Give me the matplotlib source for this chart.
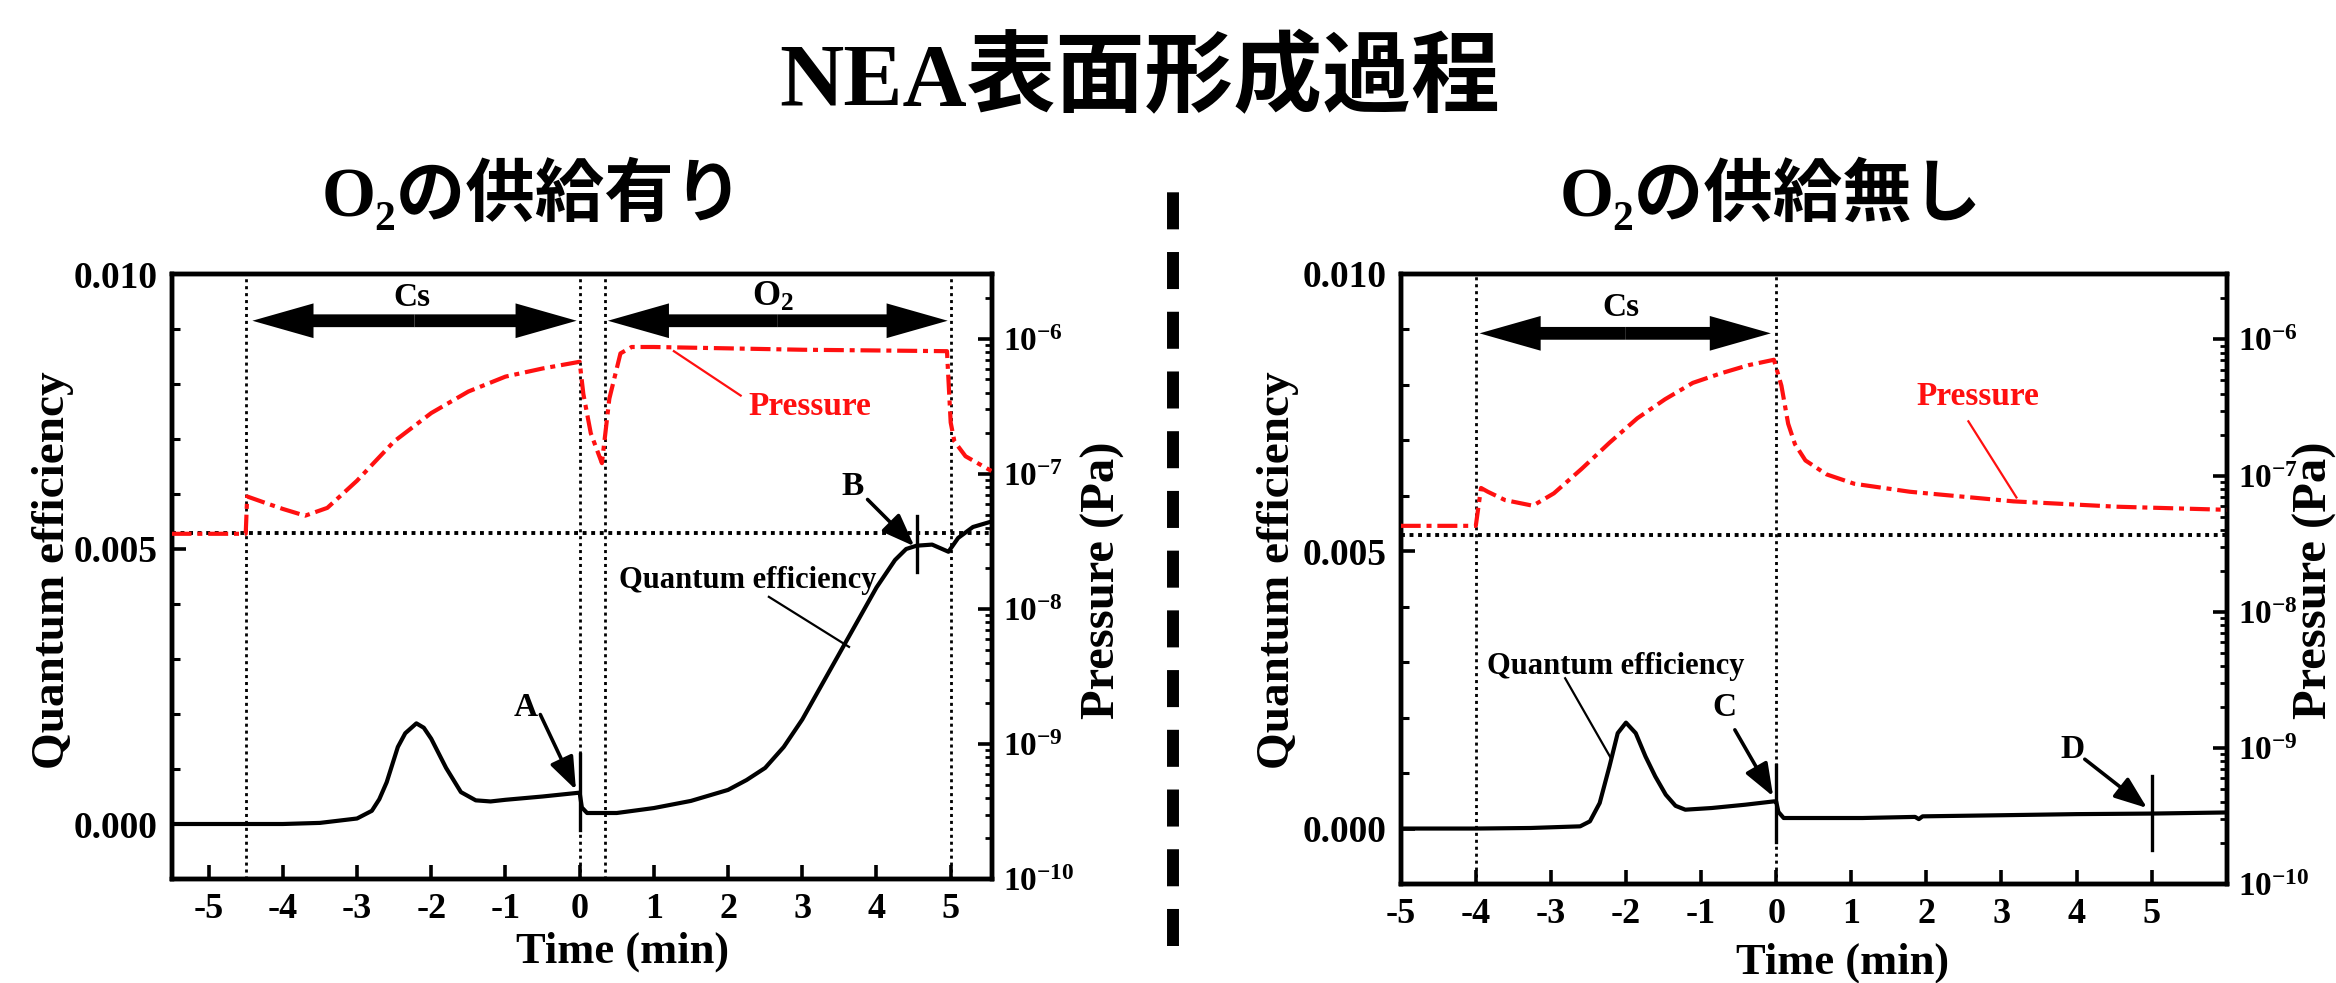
import numpy as np
import matplotlib
matplotlib.use('Agg')
import matplotlib.pyplot as plt
from matplotlib.patches import FancyArrowPatch
from matplotlib.lines import Line2D
from matplotlib.ticker import MultipleLocator, LogLocator, FixedLocator, FuncFormatter, NullFormatter

# --- data --------------------------------------------------------------------
# left panel: O2 supplied
qe_left_t = [-5.5, -4.0, -3.5, -3.0, -2.8, -2.7, -2.6, -2.45, -2.35, -2.2, -2.1, -2.0,
             -1.8, -1.6, -1.4, -1.2, -1.0, -0.5, 0.0, 0.03, 0.1, 0.5, 1.0, 1.5, 2.0,
             2.25, 2.5, 2.75, 3.0, 3.25, 3.5, 3.75, 4.0, 4.25, 4.4, 4.54, 4.75,
             4.97, 5.1, 5.3, 5.55]
qe_left = [0.0, 0.0, 0.00002, 0.0001, 0.00024, 0.00045, 0.00076, 0.0014, 0.00165, 0.00183,
           0.00175, 0.00155, 0.00102, 0.00058, 0.00043, 0.00041, 0.00044, 0.0005, 0.00057,
           0.0003, 0.0002, 0.0002, 0.00029, 0.00042, 0.00062, 0.0008, 0.00102, 0.0014,
           0.0019, 0.0025, 0.0031, 0.0037, 0.0043, 0.0048, 0.0050,
           0.00506, 0.00508, 0.00495, 0.0052, 0.0054, 0.0055]

pres_left_t = [-5.5, -4.5, -4.48, -4.2, -4.0, -3.7, -3.4, -3.0, -2.5, -2.0, -1.5, -1.0,
               -0.5, 0.0, 0.05, 0.15, 0.3, 0.4, 0.55, 0.7, 1.0, 2.0, 3.0, 4.0, 4.95,
               5.0, 5.05, 5.2, 5.55]
pres_left = [3.6e-8, 3.6e-8, 6.8e-8, 6.0e-8, 5.5e-8, 4.9e-8, 5.6e-8, 8.9e-8, 1.74e-7,
             2.82e-7, 4.07e-7, 5.25e-7, 6.03e-7, 6.76e-7, 3.9e-7, 2.0e-7, 1.2e-7, 3.6e-7,
             7.8e-7, 8.7e-7, 8.7e-7, 8.5e-7, 8.3e-7, 8.2e-7, 8.1e-7, 2.4e-7, 1.74e-7,
             1.35e-7, 1.05e-7]

# right panel: no O2
qe_right_t = [-5.0, -4.0, -3.27, -2.61, -2.48, -2.35, -2.22, -2.11, -2.0, -1.87, -1.74,
              -1.61, -1.47, -1.34, -1.21, -0.86, -0.41, -0.03, 0.0, 0.03, 0.1, 1.15,
              1.85, 1.9, 1.95, 3.0, 4.0, 5.0, 6.0]
qe_right = [0.0, 0.0, 0.00001, 0.00004, 0.00013, 0.00046, 0.00112, 0.00172, 0.00191,
            0.00172, 0.0013, 0.00094, 0.00061, 0.00041, 0.00034, 0.00037, 0.00043,
            0.00049, 0.00049, 0.0003, 0.00019, 0.00019, 0.00021, 0.00017, 0.00022,
            0.00024, 0.00026, 0.00027, 0.00029]

pres_right_t = [-5.0, -4.0, -3.93, -3.84, -3.61, -3.24, -2.96, -2.59, -2.22, -1.85, -1.48,
                -1.11, -0.74, -0.37, -0.03, 0.07, 0.16, 0.25, 0.39, 0.67, 1.04, 1.78,
                3.16, 4.54, 6.0]
pres_right = [4.27e-8, 4.27e-8, 8.1e-8, 7.6e-8, 6.6e-8, 6.0e-8, 7.4e-8, 1.12e-7, 1.74e-7,
              2.63e-7, 3.63e-7, 4.79e-7, 5.62e-7, 6.46e-7, 7.08e-7, 4.57e-7, 2.4e-7,
              1.7e-7, 1.29e-7, 1.02e-7, 8.7e-8, 7.6e-8, 6.46e-8, 5.9e-8, 5.6e-8]

x_ticks = [-5, -4, -3, -2, -1, 0, 1, 2, 3, 4, 5]
qe_ticks = [0.0, 0.005, 0.010]
qe_tick_labels = ['0.000', '0.005', '0.010']
pres_ticks = [1e-10, 1e-9, 1e-8, 1e-7, 1e-6]

# --- style --------------------------------------------------------------------
plt.rcParams['font.family'] = ['Liberation Serif', 'DejaVu Serif', 'Noto Sans CJK JP']
plt.rcParams['font.weight'] = 'bold'
plt.rcParams['mathtext.fontset'] = 'custom'
plt.rcParams['mathtext.rm'] = 'Liberation Serif:bold'
plt.rcParams['mathtext.bf'] = 'Liberation Serif:bold'
plt.rcParams['mathtext.it'] = 'Liberation Serif:bold'

RED = '#ff1010'
DASHDOT = (0, (4.8, 1.4, 1.2, 1.4))
TXT = 24


def log_label(v, pos):
    return r'$\mathbf{10^{%d}}$' % int(round(np.log10(v)))


def double_arrow(ax, x0, x1, y):
    xm = (x0 + x1) / 2
    for xe in (x0, x1):
        ax.add_patch(FancyArrowPatch((xm, y), (xe, y),
                                     arrowstyle='simple,head_length=2.2,head_width=1.25,tail_width=0.46',
                                     mutation_scale=20, color='black', lw=0,
                                     shrinkA=0, shrinkB=0, zorder=5))


def small_arrow(ax, tail, tip):
    ax.annotate('', xy=tip, xytext=tail,
                arrowprops=dict(arrowstyle='-|>,head_length=1.0,head_width=0.38',
                                mutation_scale=20, lw=2.6, color='black',
                                shrinkA=0, shrinkB=0), zorder=6)


def setup_panel(ax, xlim):
    ax.set_xlim(*xlim)
    ax.set_ylim(-0.001, 0.010)
    ax.set_xticks(x_ticks)
    ax.set_xticklabels([str(v) for v in x_ticks])
    ax.set_yticks(qe_ticks)
    ax.set_yticklabels(qe_tick_labels)
    ax.yaxis.set_minor_locator(MultipleLocator(0.001))
    ax.tick_params(axis='both', which='major', direction='in', length=10, width=2.6,
                   pad=10, top=False, right=False)
    ax.tick_params(axis='x', which='major', labelsize=26)
    ax.tick_params(axis='y', which='major', labelsize=27)
    ax.tick_params(axis='y', which='minor', direction='in', length=6, width=2.2, right=False)
    for sp in ax.spines.values():
        sp.set_linewidth(3.2)
    ax.axhline(0.0053, color='black', lw=2.8, ls=(0, (1, 1.2)), zorder=1)

    ax2 = ax.twinx()
    ax2.set_yscale('log')
    ax2.set_ylim(1e-10, 10 ** -5.52)
    ax2.yaxis.set_major_locator(FixedLocator(pres_ticks))
    ax2.yaxis.set_minor_locator(LogLocator(base=10, subs=np.arange(2, 10)))
    ax2.yaxis.set_major_formatter(FuncFormatter(log_label))
    ax2.yaxis.set_minor_formatter(NullFormatter())
    ax2.tick_params(axis='y', which='major', direction='in', length=10, width=2.6,
                    labelsize=24, pad=8)
    ax2.tick_params(axis='y', which='minor', direction='in', length=5, width=2.0)
    for sp in ax2.spines.values():
        sp.set_linewidth(3.2)
    return ax2


fig = plt.figure(figsize=(23.36, 9.83), dpi=100)
fig.patch.set_facecolor('white')

# ---------------- left panel ----------------
axL = fig.add_axes([171.5 / 2336, 1 - 879 / 983, 820 / 2336, 605 / 983])
axL2 = setup_panel(axL, (-5.5, 5.55))
for xv in (-4.5, 0.0, 0.34, 5.0):
    axL.axvline(xv, color='black', lw=2.0, ls=(0, (1.1, 1.4)), zorder=1)
axL.plot(qe_left_t, qe_left, color='black', lw=3.0, zorder=4)
axL2.plot(pres_left_t, pres_left, color=RED, lw=3.0, ls=DASHDOT, zorder=4)

double_arrow(axL, -4.41, -0.04, 0.00915)
double_arrow(axL, 0.38, 4.96, 0.00915)
axL.text(-2.26, 0.00957, 'Cs', fontsize=TXT, ha='center', va='center')
axL.text(2.6, 0.00957, r'$\mathbf{O_2}$', fontsize=TXT + 2, ha='center', va='center')

axL2.text(3.1, 3.16e-7, 'Pressure', color=RED, fontsize=TXT, ha='center', va='center')
axL2.plot([2.17, 1.27], [3.8e-7, 8.1e-7], color=RED, lw=1.6)
axL.text(2.26, 0.00443, 'Quantum efficiency', fontsize=22, ha='center', va='center')
axL.plot([2.55, 3.63], [0.00413, 0.00322], color='black', lw=1.6)

axL.plot([0.0, 0.0], [-0.0001, 0.00127], color='black', lw=2.4, zorder=5)
axL.text(-0.73, 0.00212, 'A', fontsize=TXT, ha='center', va='center')
small_arrow(axL, (-0.53, 0.00199), (-0.05, 0.00062))
axL.plot([4.54, 4.54], [0.00458, 0.0056], color='black', lw=2.4, zorder=5)
axL.text(3.68, 0.00613, 'B', fontsize=TXT, ha='center', va='center')
small_arrow(axL, (3.88, 0.0059), (4.51, 0.00505))

# ---------------- right panel ----------------
axR = fig.add_axes([1400.7 / 2336, 1 - 884 / 983, 826 / 2336, 610 / 983])
axR2 = setup_panel(axR, (-5.0, 6.0))
for xv in (-4.0, 0.0):
    axR.axvline(xv, color='black', lw=2.0, ls=(0, (1.1, 1.4)), zorder=1)
axR.plot(qe_right_t, qe_right, color='black', lw=3.0, zorder=4)
axR2.plot(pres_right_t, pres_right, color=RED, lw=3.0, ls=DASHDOT, zorder=4)

double_arrow(axR, -3.95, -0.07, 0.00893)
axR.text(-2.07, 0.0094, 'Cs', fontsize=TXT, ha='center', va='center')

axR2.text(2.68, 3.8e-7, 'Pressure', color=RED, fontsize=TXT, ha='center', va='center')
axR2.plot([2.56, 3.2], [2.5e-7, 6.9e-8], color=RED, lw=1.6)
axR.text(-2.14, 0.00293, 'Quantum efficiency', fontsize=22, ha='center', va='center')
axR.plot([-2.81, -2.21], [0.00271, 0.00129], color='black', lw=1.6)

axR.plot([0.0, 0.0], [-0.00025, 0.00115], color='black', lw=2.4, zorder=5)
axR.text(-0.69, 0.00219, 'C', fontsize=TXT, ha='center', va='center')
small_arrow(axR, (-0.55, 0.00178), (-0.04, 0.00058))
axR.plot([5.0, 5.0], [-0.00039, 0.00095], color='black', lw=2.4, zorder=5)
axR.text(3.94, 0.00142, 'D', fontsize=TXT, ha='center', va='center')
small_arrow(axR, (4.11, 0.00125), (4.94, 0.00037))

# ---------------- axis labels ----------------
fig.text(0.0228, 0.42, 'Quantum efficiency', rotation=90, fontsize=34, ha='center', va='center')
fig.text(0.5472, 0.42, 'Quantum efficiency', rotation=90, fontsize=34, ha='center', va='center')
fig.text(0.472, 0.41, 'Pressure (Pa)', rotation=90, fontsize=35, ha='center', va='center')
fig.text(0.991, 0.41, 'Pressure (Pa)', rotation=90, fontsize=35, ha='center', va='center')
fig.text(0.2663, 0.0315, 'Time (min)', fontsize=32, ha='center', va='center')
fig.text(0.7886, 0.0203, 'Time (min)', fontsize=32, ha='center', va='center')

# ---------------- titles ----------------
fig.text(0.488, 0.917, 'NEA表面形成過程', fontsize=64, ha='center', va='center')
fig.text(0.228, 0.8026, 'O₂の供給有り', fontsize=50, ha='center', va='center')
fig.text(0.758, 0.8026, 'O₂の供給無し', fontsize=50, ha='center', va='center')

# dashed separator
fig.add_artist(Line2D([0.502, 0.502], [0.038, 0.818], transform=fig.transFigure,
                      color='black', lw=8.6, ls=(0, (3.1, 1.9))))

fig.savefig('out.png', dpi=100, facecolor='white')
